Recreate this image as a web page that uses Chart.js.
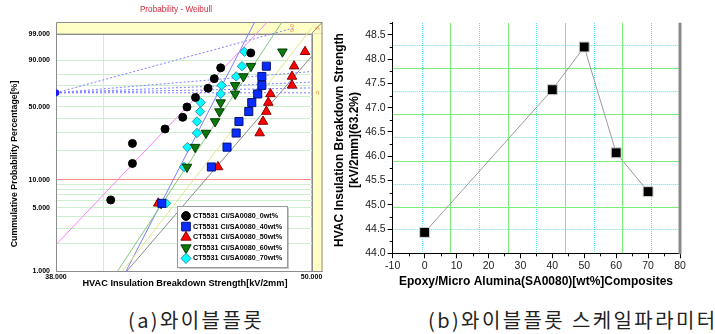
<!DOCTYPE html>
<html>
<head>
<meta charset="utf-8">
<title>Weibull</title>
<script src="https://cdn.jsdelivr.net/npm/chart.js@4.4.1/dist/chart.umd.min.js"></script>
<style>
  html, body { margin: 0; padding: 0; background: #fff; }
  body { position: relative; width: 715px; height: 334px; overflow: hidden; }
  canvas { position: absolute; top: 0; }
  #weibull { left: 0; }
  #eta { left: 330px; }
  .caption { position: absolute; top: 307px; font-family: "Noto Sans CJK KR", sans-serif; font-size: 20px; letter-spacing: 2.4px; line-height: 26px; color: #222; white-space: nowrap; }
</style>
</head>
<body>
<canvas id="weibull" width="330" height="290"></canvas>
<canvas id="eta" width="385" height="290"></canvas>
<div class="caption" style="left:128px">(a)와이블플롯</div>
<div class="caption" style="left:428px">(b)와이블플롯 스케일파라미터</div>
<script>
// ---------- (a) Weibull probability plot ----------
const SERIES_LABELS = [
    "CT5531 CI/SA0080_0wt%", "CT5531 CI/SA0080_40wt%", "CT5531 CI/SA0080_50wt%",
    "CT5531 CI/SA0080_60wt%", "CT5531 CI/SA0080_70wt%",
];
// median ranks [%], lowest specimen first
const RANK_11 = [6.1, 14.9, 23.7, 32.5, 41.2, 50.0, 58.8, 67.5, 76.3, 85.1, 93.9];
const RANK_12 = [5.6, 13.7, 21.8, 29.8, 37.9, 46.0, 54.0, 62.1, 70.2, 78.2, 86.3, 94.4];
// breakdown strength [kV/2mm] per specimen (null = off the plot)
const KV_0WT  = [40.30, 41.25, 41.25, 42.72, 43.54, 43.74, 44.14, 44.74, 45.04, 45.35, 46.84];
const KV_40WT = [42.57, 44.90, 45.66, 46.11, 46.25, 46.74, 46.89, 47.19, 47.40, 47.40, 47.63, null];
const KV_50WT = [42.41, 45.22, null, 47.29, 47.46, 47.63, 47.73, 47.84, 48.96, 48.96, 49.07, 49.65];
const KV_60WT = [42.54, 43.74, 44.12, 44.64, 45.08, 45.29, 45.35, 46.06, 46.06, 46.47, 46.85, 48.46];
const KV_70WT = [42.77, 43.60, 43.76, 44.21, 44.21, 44.36, 44.39, 45.35, 45.40, 46.11, 46.40, 46.52];

// fitted lines, [kV, %] end points
const FIT_0WT  = [[38.03, 2.0], [47.69, 99.8]];
const FIT_40WT = [[40.82, 1.0], [50.00, 99.5]];
const FIT_50WT = [[41.01, 1.0], [50.00, 92.3]];
const FIT_60WT = [[40.60, 1.0], [48.44, 99.8]];
const FIT_70WT = [[40.97, 1.0], [47.04, 99.8]];

// slope guides from the pole
const POLE = [38, 63.2];
const POLE_ENDS = [[49.02, 99.5], [50, 82.3], [50, 73.2], [50, 67.8], [50, 63.2]];

const PROB_GRID = [1, 2, 3, 4, 5, 6, 7, 8, 9, 10, 20, 30, 40, 50, 60, 70, 80, 90, 99];
const PROB_LABELS = [1, 5, 10, 50, 90, 99];
const KV_GRID = [38, 40, 50];

// ---------- (b) scale parameter ----------
const WT_PCT = [0, 40, 50, 60, 70];
const ETA_KV = [44.43, 47.37, 48.25, 46.07, 45.27];
const X_TICKS_B = [-10, 0, 10, 20, 30, 40, 50, 60, 70, 80];
const X_MINOR_B = [-5, 5, 15, 25, 35, 45, 55, 65, 75];
const Y_TICKS_B = [44.0, 44.5, 45.0, 45.5, 46.0, 46.5, 47.0, 47.5, 48.0, 48.5];
const Y_MINOR_B = [44.25, 44.75, 45.25, 45.75, 46.25, 46.75, 47.25, 47.75, 48.25, 48.75];
const GRID_X_SOLID = [8.26, 26.21, 44.2, 62.06];
const GRID_X_DOT = [-0.73, 17.13, 35.11, 53.16, 71.14];
const GRID_Y_SOLID = [47.81, 46.85, 45.90, 44.95];
const GRID_Y_DOT = [48.29, 47.33, 46.38, 45.42, 44.48];

const FONT = "Liberation Sans";

// probability axis: linear in ln(-ln(1-F))
const wb = p => Math.log(-Math.log(1 - p / 100));

class WeibullScale extends Chart.LinearScale {
    determineDataLimits() {
        this.min = this.options.min;
        this.max = this.options.max;
    }
    buildTicks() {
        return PROB_GRID.map(v => ({ value: v }));
    }
    getPixelForValue(v) {
        const lo = wb(this.min), hi = wb(this.max);
        return this.getPixelForDecimal((wb(v) - lo) / (hi - lo));
    }
    getValueForPixel(px) {
        const lo = wb(this.min), hi = wb(this.max);
        const t = lo + this.getDecimalForPixel(px) * (hi - lo);
        return 100 * (1 - Math.exp(-Math.exp(t)));
    }
}
WeibullScale.id = "weibull";
WeibullScale.defaults = {};
Chart.register(WeibullScale);

const toPts = (kv, prob) => kv.map((x, i) => ({ x, y: prob[i] })).filter(p => p.x !== null);
const seg = ends => ends.map(([x, y]) => ({ x, y }));

const markerSets = [
    [KV_0WT, RANK_11, "circle", 0, 4.0, "#000000", "#000000"],
    [KV_40WT, RANK_12, "rect", 0, 5.7, "#0a2cff", "#00127a"],
    [KV_50WT, RANK_12, "triangle", 0, 5.5, "#ff0000", "#8a0000"],
    [KV_60WT, RANK_12, "triangle", 180, 5.5, "#0b7a0b", "#033a03"],
    [KV_70WT, RANK_12, "rectRot", 0, 4.7, "#00ffff", "#2f8fb0"],
].map(([kv, prob, style, rot, r, fill, edge], i) => ({
    label: SERIES_LABELS[i],
    data: toPts(kv, prob),
    pointStyle: style,
    rotation: rot,
    pointRadius: r,
    backgroundColor: fill,
    borderColor: edge,
    borderWidth: 1,
    showLine: false,
    order: 0,
}));

const fitSets = [
    [FIT_0WT, "#ff80ff"], [FIT_40WT, "#e4e48a"], [FIT_50WT, "#8c8c8c"],
    [FIT_60WT, "#80c880"], [FIT_70WT, "#7d7dff"],
].map(([ends, color]) => ({
    data: seg(ends), showLine: true, borderColor: color, borderWidth: 1, pointRadius: 0, order: 2,
}));

const poleSets = POLE_ENDS.map(end => ({
    data: seg([POLE, end]), showLine: true, borderColor: "#7f7fff", borderDash: [2, 2],
    borderWidth: 1, pointRadius: 0, order: 1,
}));

const poleDot = {
    data: seg([POLE]), pointRadius: 3, backgroundColor: "#1a1aff", borderColor: "#1a1aff", order: 0,
};

// yellow slope/eta margins around the plot
const bandPlugin = {
    id: "band",
    beforeDatasetsDraw(chart) {
        const { ctx, chartArea: a, scales: { x, y } } = chart;
        const x50 = x.getPixelForValue(50), y99 = y.getPixelForValue(99);
        ctx.save();
        ctx.fillStyle = "#ffffc6";
        ctx.fillRect(a.left, a.top, a.right - a.left, y99 - a.top);
        ctx.fillRect(x50, y99, a.right - x50, a.bottom - y99);
        ctx.strokeStyle = "#8c8c8c";
        ctx.lineWidth = 1;
        ctx.beginPath();
        ctx.moveTo(a.left + 0.5, a.bottom);
        ctx.lineTo(a.left + 0.5, a.top + 0.5);
        ctx.lineTo(a.right - 0.5, a.top + 0.5);
        ctx.lineTo(a.right - 0.5, a.bottom);
        ctx.moveTo(a.left, Math.round(y99) + 0.5);
        ctx.lineTo(x50, Math.round(y99) + 0.5);
        ctx.moveTo(Math.round(x50) + 0.5, y99);
        ctx.lineTo(Math.round(x50) + 0.5, a.bottom);
        ctx.moveTo(x50, y99);
        ctx.lineTo(a.right, a.top);
        ctx.stroke();
        ctx.fillStyle = "#f08a3c";
        ctx.font = "6px " + FONT;
        ctx.textAlign = "center";
        ctx.textBaseline = "middle";
        ctx.fillText("η", a.right - 5, y.getPixelForValue(63.2));
        ctx.translate(x.getPixelForValue(49.0), a.top + 6);
        ctx.rotate(-Math.PI / 2);
        ctx.fillText("6.0", 0, 0);
        ctx.restore();
        ctx.save();
        ctx.fillStyle = "#f08a3c";
        ctx.font = "6px " + FONT;
        ctx.translate(a.right - 5, a.top + 6);
        ctx.rotate(-Math.PI / 2);
        ctx.textAlign = "center";
        ctx.textBaseline = "middle";
        ctx.fillText("β", 0, 0);
        ctx.restore();
    },
};

const legendPlugin = {
    id: "boxLegend",
    afterDatasetsDraw(chart) {
        const { ctx, chartArea: a } = chart;
        const x0 = a.left + 121, y0 = a.top + 184, w = 110, h = 61;
        ctx.save();
        ctx.fillStyle = "rgba(0,0,0,0.22)";
        ctx.fillRect(x0 + 2, y0 + 2, w, h);
        ctx.fillStyle = "#ffffff";
        ctx.fillRect(x0, y0, w, h);
        ctx.strokeStyle = "#9a9a9a";
        ctx.lineWidth = 1;
        ctx.strokeRect(x0 + 0.5, y0 + 0.5, w, h);
        ctx.font = "bold 7.2px " + FONT;
        ctx.textBaseline = "middle";
        SERIES_LABELS.forEach((label, i) => {
            const ds = chart.data.datasets[i];
            const yy = y0 + 10 + i * 10.6;
            ctx.fillStyle = ds.backgroundColor;
            ctx.strokeStyle = ds.borderColor;
            Chart.helpers.drawPoint(ctx, {
                pointStyle: ds.pointStyle, rotation: ds.rotation, radius: ds.pointRadius + 0.4, borderWidth: 1,
            }, x0 + 9, yy);
            ctx.fillStyle = "#000";
            ctx.fillText(label, x0 + 16, yy);
        });
        ctx.restore();
    },
};

const titlesA = {
    id: "titlesA",
    afterDraw(chart) {
        const ctx = chart.ctx;
        ctx.save();
        ctx.textAlign = "center";
        ctx.textBaseline = "middle";
        ctx.fillStyle = "#d02a3a";
        ctx.font = "8.2px " + FONT;
        ctx.fillText("Probability - Weibull", 176, 10);
        ctx.fillStyle = "#000";
        ctx.font = "bold 9.2px " + FONT;
        ctx.fillText("HVAC Insulation Breakdown Strength[kV/2mm]", 185, 283);
        ctx.font = "bold 8.8px " + FONT;
        ctx.translate(15, 164);
        ctx.rotate(-Math.PI / 2);
        ctx.fillText("Cummulative Probability Percentage[%]", 0, 0);
        ctx.restore();
    },
};

new Chart(document.getElementById("weibull"), {
    type: "scatter",
    data: { datasets: [...markerSets, ...fitSets, ...poleSets, poleDot] },
    options: {
        responsive: false,
        animation: false,
        events: [],
        layout: { padding: { top: 22, right: 7.5, left: 0, bottom: 0 } },
        plugins: { legend: { display: false }, tooltip: { enabled: false } },
        scales: {
            x: {
                type: "logarithmic",
                min: 38,
                max: 50.59,
                bounds: "data",
                afterBuildTicks: s => { s.ticks = KV_GRID.map(v => ({ value: v })); },
                afterFit: s => { s.height = 19; },
                ticks: {
                    autoSkip: false, maxRotation: 0, padding: 2, color: "#000",
                    font: { family: FONT, size: 7, weight: "bold" },
                    callback: v => (v === 40 ? "" : v.toFixed(3)),
                },
                grid: {
                    drawTicks: false,
                    color: c => (c.tick && c.tick.value === 40 ? "#cdefcd" : "#8c8c8c"),
                },
                border: { color: "#8c8c8c" },
            },
            y: {
                type: "weibull",
                min: 1,
                max: 99.8,
                afterFit: s => { s.width = 56; },
                ticks: {
                    autoSkip: false, padding: 6, color: "#000",
                    font: { family: FONT, size: 7, weight: "bold" },
                    callback: v => (PROB_LABELS.includes(v) ? v.toFixed(3) : ""),
                },
                grid: {
                    drawTicks: false,
                    color: c => {
                        const v = c.tick && c.tick.value;
                        if (v === 10) return "#ff8a8a";
                        if (v === 99 || v === 1) return "#8c8c8c";
                        return "#cdefcd";
                    },
                },
                border: { color: "#8c8c8c" },
            },
        },
    },
    plugins: [bandPlugin, legendPlugin, titlesA],
});

// ---------- (b) ----------
// extra axes that only carry the offset grid of the plot
const gridScale = (position, min, max, values, color, dash) => ({
    type: "linear",
    position,
    min,
    max,
    bounds: "data",
    afterBuildTicks: s => { s.ticks = values.map(v => ({ value: v })); },
    afterFit: s => { if (s.isHorizontal()) s.height = 0; else s.width = 0; },
    ticks: { display: false },
    grid: { color, lineWidth: 1, drawTicks: false },
    border: { display: false, dash },
});

const frameB = {
    id: "frameB",
    afterDraw(chart) {
        const { ctx, chartArea: a, scales: { x, y } } = chart;
        ctx.save();
        ctx.strokeStyle = "#000";
        ctx.lineWidth = 1;
        ctx.beginPath();
        X_MINOR_B.forEach(v => { const p = Math.round(x.getPixelForValue(v)) + 0.5; ctx.moveTo(p, a.bottom); ctx.lineTo(p, a.bottom + 3); });
        Y_MINOR_B.forEach(v => { const p = Math.round(y.getPixelForValue(v)) + 0.5; ctx.moveTo(a.left, p); ctx.lineTo(a.left - 3, p); });
        ctx.stroke();
        // right frame
        ctx.strokeStyle = "#8a8a8a";
        ctx.lineWidth = 3;
        ctx.beginPath();
        ctx.moveTo(a.right, a.top);
        ctx.lineTo(a.right, a.bottom + 1);
        ctx.stroke();
        // axis titles
        ctx.fillStyle = "#000";
        ctx.font = "bold 12px " + FONT;
        ctx.textAlign = "center";
        ctx.textBaseline = "middle";
        ctx.fillText("Epoxy/Micro Alumina(SA0080)[wt%]Composites", 206, 282);
        ctx.translate(10, 140);
        ctx.rotate(-Math.PI / 2);
        ctx.fillText("HVAC Insulation Breakdown Strength", 0, 0);
        ctx.fillText("[kV/2mm](63.2%)", 0, 15);
        ctx.restore();
    },
};

new Chart(document.getElementById("eta"), {
    type: "scatter",
    data: {
        datasets: [{
            data: WT_PCT.map((x, i) => ({ x, y: ETA_KV[i] })),
            showLine: true,
            borderColor: "#9a9a9a",
            borderWidth: 1,
            pointStyle: "rect",
            pointRadius: 7,
            backgroundColor: "#000000",
            pointBorderColor: "#d0d0d0",
            pointBorderWidth: 1,
        }],
    },
    options: {
        responsive: false,
        animation: false,
        events: [],
        layout: { padding: { top: 22.7, right: 35, left: 0, bottom: 0 } },
        plugins: { legend: { display: false }, tooltip: { enabled: false } },
        scales: {
            x: {
                type: "linear", min: -10, max: 80, bounds: "data",
                afterBuildTicks: s => { s.ticks = X_TICKS_B.map(v => ({ value: v })); },
                afterFit: s => { s.height = 36.7; },
                ticks: { autoSkip: false, maxRotation: 0, padding: 2, color: "#222", font: { family: FONT, size: 10.5 } },
                grid: { drawOnChartArea: false, drawTicks: true, tickLength: 5, tickColor: "#000" },
                border: { color: "#000" },
            },
            y: {
                type: "linear", min: 44, max: 48.75, bounds: "data",
                afterBuildTicks: s => { s.ticks = Y_TICKS_B.map(v => ({ value: v })); },
                afterFit: s => { s.width = 62.7; },
                ticks: {
                    autoSkip: false, padding: 2, color: "#222", font: { family: FONT, size: 10.5 },
                    callback: v => v.toFixed(1),
                },
                grid: { drawOnChartArea: false, drawTicks: true, tickLength: 5, tickColor: "#000" },
                border: { color: "#000" },
            },
            gxDot: gridScale("top", -10, 80, GRID_X_DOT, "#55e4ee", [1, 1]),
            gyDot: gridScale("right", 44, 48.75, GRID_Y_DOT, "#55e4ee", [1, 1]),
            gxSolid: gridScale("top", -10, 80, GRID_X_SOLID, "#78ee78", []),
            gySolid: gridScale("right", 44, 48.75, GRID_Y_SOLID, "#78ee78", []),
        },
    },
    plugins: [frameB],
});
</script>
</body>
</html>
